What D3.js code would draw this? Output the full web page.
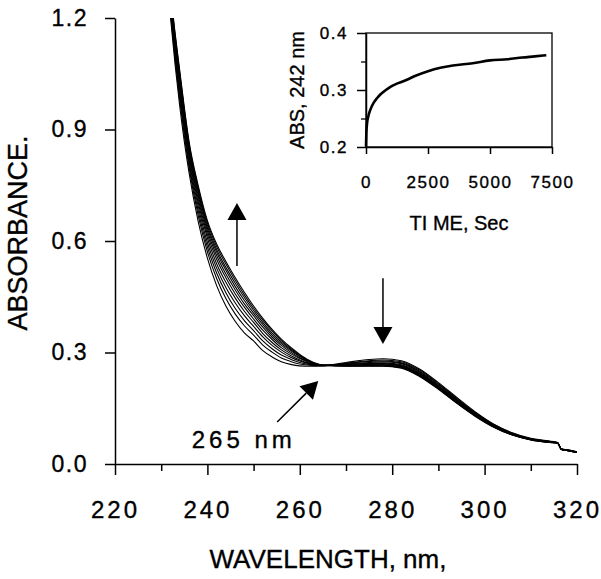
<!DOCTYPE html>
<html>
<head>
<meta charset="utf-8">
<script src="https://cdn.jsdelivr.net/npm/d3@7"></script>
<style>
  body { margin: 0; background: #fff; }
  svg { display: block; font-family: "Liberation Sans", Arial, sans-serif; }
  text { stroke: #000; stroke-width: 0.35px; }
</style>
</head>
<body>
<script>
// wavelength grid (nm) shared by all scans
var wavelengths = [232, 233, 234, 235, 236, 238, 240, 242, 244, 246, 248, 250, 252, 254, 256, 258, 260, 262, 265,
                   270, 275, 278, 282, 286, 290, 294, 298, 302, 306, 310, 314, 315.8, 316.6, 318, 320];

// absorbance of each scan (scan0 = first, scan10 = last)
var scan0  = [1.204, 1.075, 0.964, 0.868, 0.786, 0.653, 0.554, 0.480, 0.425, 0.384, 0.353, 0.331, 0.305, 0.288, 0.275, 0.268, 0.264, 0.263, 0.264, 0.273, 0.281, 0.283, 0.278, 0.255, 0.219, 0.179, 0.140, 0.107, 0.084, 0.069, 0.062, 0.058, 0.041, 0.038, 0.033];
var scan1  = [1.215, 1.089, 0.980, 0.884, 0.800, 0.669, 0.571, 0.499, 0.445, 0.404, 0.372, 0.347, 0.320, 0.301, 0.285, 0.276, 0.269, 0.266, 0.264, 0.271, 0.278, 0.280, 0.275, 0.252, 0.216, 0.176, 0.138, 0.106, 0.083, 0.068, 0.061, 0.058, 0.041, 0.038, 0.033];
var scan2  = [1.224, 1.101, 0.993, 0.896, 0.811, 0.682, 0.584, 0.514, 0.461, 0.419, 0.386, 0.359, 0.331, 0.310, 0.293, 0.282, 0.273, 0.268, 0.265, 0.270, 0.276, 0.277, 0.272, 0.249, 0.214, 0.174, 0.136, 0.105, 0.082, 0.068, 0.061, 0.057, 0.040, 0.037, 0.032];
var scan3  = [1.232, 1.111, 1.004, 0.907, 0.821, 0.694, 0.596, 0.527, 0.475, 0.434, 0.399, 0.370, 0.342, 0.319, 0.301, 0.287, 0.277, 0.270, 0.265, 0.269, 0.273, 0.275, 0.270, 0.247, 0.211, 0.172, 0.135, 0.104, 0.081, 0.067, 0.060, 0.057, 0.040, 0.037, 0.032];
var scan4  = [1.239, 1.120, 1.015, 0.917, 0.831, 0.704, 0.608, 0.539, 0.489, 0.447, 0.411, 0.381, 0.351, 0.327, 0.307, 0.292, 0.280, 0.271, 0.265, 0.268, 0.271, 0.272, 0.267, 0.244, 0.209, 0.171, 0.134, 0.103, 0.081, 0.067, 0.060, 0.057, 0.040, 0.037, 0.032];
var scan5  = [1.246, 1.129, 1.024, 0.926, 0.839, 0.714, 0.618, 0.551, 0.501, 0.458, 0.422, 0.390, 0.360, 0.335, 0.313, 0.297, 0.284, 0.273, 0.265, 0.267, 0.270, 0.270, 0.265, 0.242, 0.208, 0.169, 0.132, 0.102, 0.080, 0.066, 0.059, 0.057, 0.040, 0.037, 0.032];
var scan6  = [1.252, 1.136, 1.033, 0.934, 0.846, 0.723, 0.627, 0.561, 0.511, 0.469, 0.431, 0.399, 0.368, 0.341, 0.319, 0.301, 0.286, 0.275, 0.265, 0.266, 0.268, 0.269, 0.264, 0.241, 0.206, 0.167, 0.131, 0.101, 0.080, 0.066, 0.059, 0.057, 0.040, 0.037, 0.032];
var scan7  = [1.257, 1.143, 1.041, 0.942, 0.853, 0.731, 0.635, 0.570, 0.521, 0.478, 0.440, 0.406, 0.375, 0.347, 0.324, 0.305, 0.289, 0.276, 0.266, 0.265, 0.267, 0.267, 0.262, 0.239, 0.205, 0.166, 0.130, 0.101, 0.079, 0.066, 0.059, 0.056, 0.039, 0.036, 0.031];
var scan8  = [1.261, 1.149, 1.048, 0.948, 0.859, 0.737, 0.642, 0.577, 0.529, 0.487, 0.448, 0.413, 0.381, 0.352, 0.328, 0.308, 0.291, 0.277, 0.266, 0.264, 0.265, 0.266, 0.261, 0.238, 0.203, 0.165, 0.130, 0.100, 0.079, 0.066, 0.059, 0.056, 0.039, 0.036, 0.031];
var scan9  = [1.266, 1.155, 1.054, 0.954, 0.865, 0.744, 0.649, 0.585, 0.538, 0.495, 0.455, 0.419, 0.387, 0.358, 0.332, 0.311, 0.293, 0.278, 0.266, 0.264, 0.264, 0.264, 0.259, 0.236, 0.202, 0.164, 0.129, 0.099, 0.078, 0.065, 0.058, 0.056, 0.039, 0.036, 0.031];
var scan10 = [1.270, 1.160, 1.060, 0.960, 0.870, 0.750, 0.655, 0.592, 0.545, 0.502, 0.462, 0.425, 0.392, 0.362, 0.336, 0.314, 0.295, 0.279, 0.266, 0.263, 0.263, 0.263, 0.258, 0.235, 0.201, 0.163, 0.128, 0.099, 0.078, 0.065, 0.058, 0.056, 0.039, 0.036, 0.031];
var scans = [scan0, scan1, scan2, scan3, scan4, scan5, scan6, scan7, scan8, scan9, scan10];

// inset: absorbance at 242 nm vs time
var timeSec = [0, 15, 40, 100, 180, 300, 450, 600, 800, 1000, 1300, 1650, 2000, 2500, 3000, 3500, 4300, 5000, 5700, 6300, 6800, 7270];
var abs242  = [0.201, 0.225, 0.240, 0.255, 0.266, 0.277, 0.286, 0.293, 0.300, 0.306, 0.312, 0.318, 0.325, 0.333, 0.339, 0.343, 0.347, 0.352, 0.354, 0.357, 0.359, 0.361];

var xTicks = [220, 240, 260, 280, 300, 320];
var xMinorTicks = [230, 250, 270, 290, 310];
var yTicks = [0, 0.3, 0.6, 0.9, 1.2];
var insetXTicks = [0, 2500, 5000, 7500];
var insetYTicks = [0.2, 0.3, 0.4];
var insetYMinorTicks = [0.25, 0.35];

var width = 601, height = 579;
var svg = d3.select('body').append('svg').attr('width', width).attr('height', height);

var x = d3.scaleLinear().domain([220, 320]).range([115, 577]);
var y = d3.scaleLinear().domain([0, 1.2]).range([464, 18]);

// clip the scans to the plot area
svg.append('clipPath').attr('id', 'plotclip')
   .append('rect').attr('x', 115).attr('y', 18).attr('width', 462).attr('height', 446);

function styleAxis(g, size, spacing) {
  g.attr('font-family', null).attr('font-size', null);
  g.select('.domain').attr('stroke', '#000').attr('stroke-width', 1.5);
  g.selectAll('.tick line').attr('stroke', '#000').attr('stroke-width', 1.5);
  g.selectAll('.tick text').attr('fill', '#000').style('font-size', size + 'px')
   .style('letter-spacing', spacing + 'px');
}

// main axes
var gx = svg.append('g').attr('transform', 'translate(0,464)')
  .call(d3.axisBottom(x).tickValues(xTicks).tickSize(11).tickSizeOuter(0).tickPadding(26).tickFormat(d3.format('d')));
styleAxis(gx, 24, 3);
var gxm = svg.append('g').attr('transform', 'translate(0,464)')
  .call(d3.axisBottom(x).tickValues(xMinorTicks).tickSize(7).tickFormat(''));
gxm.select('.domain').remove();
gxm.selectAll('.tick line').attr('stroke', '#000').attr('stroke-width', 1.5);

var gy = svg.append('g').attr('transform', 'translate(115,0)')
  .call(d3.axisLeft(y).tickValues(yTicks).tickSize(10).tickSizeOuter(0).tickPadding(17).tickFormat(d3.format('.1f')));
styleAxis(gy, 23, 1.5);

// scans
var line = d3.line()
  .x(function (d) { return x(d[0]); })
  .y(function (d) { return y(d[1]); })
  .curve(d3.curveMonotoneX);

svg.append('g').attr('clip-path', 'url(#plotclip)')
  .selectAll('path')
  .data(scans)
  .enter()
  .append('path')
  .attr('d', function (s) {
    return line(s.map(function (v, i) { return [wavelengths[i], v]; }));
  })
  .attr('fill', 'none')
  .attr('stroke', '#000')
  .attr('stroke-width', 1.1);

// arrows (data coordinates)
function arrow(w1, a1, w2, a2) {
  var x1 = x(w1), y1 = y(a1), x2 = x(w2), y2 = y(a2);
  var ang = Math.atan2(y2 - y1, x2 - x1);
  var hl = 17, hw = 9.5;
  var bx = x2 - hl * Math.cos(ang), by = y2 - hl * Math.sin(ang);
  svg.append('line').attr('x1', x1).attr('y1', y1).attr('x2', bx).attr('y2', by)
     .attr('stroke', '#000').attr('stroke-width', 1.5);
  svg.append('path')
     .attr('d', 'M' + x2 + ',' + y2 +
                'L' + (bx + hw * Math.sin(ang)) + ',' + (by - hw * Math.cos(ang)) +
                'L' + (bx - hw * Math.sin(ang)) + ',' + (by + hw * Math.cos(ang)) + 'Z')
     .attr('fill', '#000');
}
arrow(246.4, 0.533, 246.4, 0.702);
arrow(278.0, 0.500, 278.0, 0.323);
arrow(255.1, 0.113, 264.0, 0.223);

svg.append('text').attr('x', x(236.6)).attr('y', y(0.043))
   .style('font-size', '24px').style('letter-spacing', '4px')
   .text('265 nm');

// axis titles
svg.append('text').attr('x', 328).attr('y', 568).attr('text-anchor', 'middle')
   .style('font-size', '26px').text('WAVELENGTH, nm,');
svg.append('text').attr('transform', 'translate(27,233) rotate(-90)').attr('text-anchor', 'middle')
   .style('font-size', '27px').text('ABSORBANCE.');

// inset
var ix = d3.scaleLinear().domain([0, 7500]).range([366, 552]);
var iy = d3.scaleLinear().domain([0.2, 0.4]).range([147, 33]);

svg.append('rect').attr('x', 366).attr('y', 33).attr('width', 186).attr('height', 114)
   .attr('fill', 'none').attr('stroke', '#000').attr('stroke-width', 1.3);

var gix = svg.append('g').attr('transform', 'translate(0,147)')
  .call(d3.axisBottom(ix).tickValues(insetXTicks).tickSize(7).tickSizeOuter(0).tickPadding(22).tickFormat(d3.format('d')));
styleAxis(gix, 17, 1.5);
var giy = svg.append('g').attr('transform', 'translate(366,0)')
  .call(d3.axisLeft(iy).tickValues(insetYTicks).tickSize(9).tickSizeOuter(0).tickPadding(9).tickFormat(d3.format('.1f')));
styleAxis(giy, 17, 1.5);
var giym = svg.append('g').attr('transform', 'translate(366,0)')
  .call(d3.axisLeft(iy).tickValues(insetYMinorTicks).tickSize(5).tickFormat(''));
giym.select('.domain').remove();
giym.selectAll('.tick line').attr('stroke', '#000').attr('stroke-width', 1.3);

var iline = d3.line()
  .x(function (d) { return ix(d[0]); })
  .y(function (d) { return iy(d[1]); })
  .curve(d3.curveMonotoneX);
svg.append('path')
  .attr('d', iline(timeSec.map(function (t, i) { return [t, abs242[i]]; })))
  .attr('fill', 'none').attr('stroke', '#000').attr('stroke-width', 2.6);

svg.append('text').attr('x', 459).attr('y', 230).attr('text-anchor', 'middle')
   .style('font-size', '20px').text('TI ME, Sec');
svg.append('text').attr('transform', 'translate(304,90) rotate(-90)').attr('text-anchor', 'middle')
   .style('font-size', '20px').text('ABS, 242 nm');
</script>
</body>
</html>
